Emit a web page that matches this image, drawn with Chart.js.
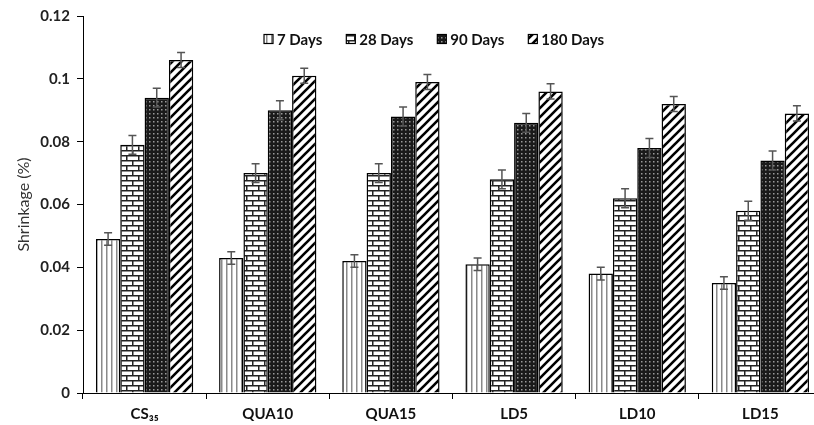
<!DOCTYPE html>
<html>
<head>
<meta charset="utf-8">
<script src="https://cdn.jsdelivr.net/npm/chart.js@4"></script>
<style>
  html, body { margin: 0; padding: 0; background: #fff; overflow: hidden; }
  #wrap { width: 832px; height: 425px; }
</style>
</head>
<body>
<div id="wrap"><canvas id="shrinkChart"></canvas></div>
<script>
const categories = ["CS\u2083\u2085", "QUA10", "QUA15", "LD5", "LD10", "LD15"];
const seriesNames = ["7 Days", "28 Days", "90 Days", "180 Days"];
const days7 = [0.049, 0.043, 0.042, 0.041, 0.038, 0.035];
const days28 = [0.079, 0.070, 0.070, 0.068, 0.062, 0.058];
const days90 = [0.094, 0.090, 0.088, 0.086, 0.078, 0.074];
const days180 = [0.106, 0.101, 0.099, 0.096, 0.092, 0.089];
const err7 = [0.002, 0.002, 0.002, 0.002, 0.002, 0.002];
const err28 = [0.003, 0.003, 0.003, 0.003, 0.003, 0.003];
const err90 = [0.003, 0.003, 0.003, 0.003, 0.003, 0.003];
const err180 = [0.0024, 0.0024, 0.0024, 0.0024, 0.0024, 0.0024];
const yTicks = [0, 0.02, 0.04, 0.06, 0.08, 0.1, 0.12];

function makePattern(w, h, draw) {
    const c = document.createElement("canvas");
    c.width = w;
    c.height = h;
    const g = c.getContext("2d");
    g.fillStyle = "#fff";
    g.fillRect(0, 0, w, h);
    draw(g);
    return c.getContext("2d").createPattern(c, "repeat");
}

// vertical gray stripes
const pat7 = makePattern(5, 5, g => {
    g.fillStyle = "#8a8a8a";
    g.fillRect(1, 0, 1.5, 5);
});

// bricks
const pat28 = makePattern(12, 10, g => {
    g.fillStyle = "#222";
    g.fillRect(0, 0, 12, 1.5);
    g.fillRect(0, 5, 12, 1.5);
    g.fillRect(0, 0, 1.5, 5);
    g.fillRect(6, 5, 1.5, 5);
});

// dense dark grid
const pat90 = makePattern(4, 4, g => {
    g.fillStyle = "#1a1a1a";
    g.fillRect(0, 0, 4, 4);
    g.fillStyle = "#9a9a9a";
    g.fillRect(1, 1, 1.5, 1.5);
});

// wide diagonal stripes
const pat180 = makePattern(9, 9, g => {
    g.strokeStyle = "#000";
    g.lineWidth = 2.6;
    g.beginPath();
    g.moveTo(-2, 11); g.lineTo(11, -2);
    g.moveTo(-2, 2); g.lineTo(2, -2);
    g.moveTo(7, 11); g.lineTo(11, 7);
    g.stroke();
});

const allValues = [days7, days28, days90, days180];
const allErrors = [err7, err28, err90, err180];
const fills = [pat7, pat28, pat90, pat180];

const errorBars = {
    id: "errorBars",
    afterDatasetsDraw(chart) {
        const ctx = chart.ctx;
        const y = chart.scales.y;
        ctx.save();
        ctx.strokeStyle = "#555";
        ctx.lineWidth = 1.5;
        chart.data.datasets.forEach((ds, i) => {
            const meta = chart.getDatasetMeta(i);
            meta.data.forEach((bar, j) => {
                const v = ds.data[j];
                const e = ds.errors[j];
                const top = y.getPixelForValue(v + e);
                const bot = y.getPixelForValue(v - e);
                ctx.beginPath();
                ctx.moveTo(bar.x, top); ctx.lineTo(bar.x, bot);
                ctx.moveTo(bar.x - 4, top); ctx.lineTo(bar.x + 4, top);
                ctx.moveTo(bar.x - 4, bot); ctx.lineTo(bar.x + 4, bot);
                ctx.stroke();
            });
        });
        ctx.restore();
    }
};

// legend drawn inside the plot, in one row near the top
const insideLegend = {
    id: "insideLegend",
    afterDraw(chart) {
        const ctx = chart.ctx;
        const area = chart.chartArea;
        const box = 9, gapText = 4, gapItem = 24;
        ctx.save();
        ctx.font = "bold 15px Lato";
        ctx.textBaseline = "middle";
        const items = chart.data.datasets.map(ds => ({
            text: ds.label, fill: ds.backgroundColor, w: box + gapText + ctx.measureText(ds.label).width
        }));
        const total = items.reduce((s, it) => s + it.w, 0) + gapItem * (items.length - 1);
        let x = area.left + (area.right - area.left) * 0.475 - total / 2;
        const cy = area.top + 23;
        items.forEach(it => {
            ctx.fillStyle = it.fill;
            ctx.fillRect(x, cy - box / 2, box, box);
            ctx.strokeStyle = "#000";
            ctx.lineWidth = 1.2;
            ctx.strokeRect(x, cy - box / 2, box, box);
            ctx.fillStyle = "#111";
            ctx.fillText(it.text, x + box + gapText, cy + 1);
            x += it.w + gapItem;
        });
        ctx.restore();
    }
};

new Chart(document.getElementById("shrinkChart"), {
    type: "bar",
    data: {
        labels: categories,
        datasets: seriesNames.map((name, i) => ({
            label: name,
            data: allValues[i],
            errors: allErrors[i],
            backgroundColor: fills[i],
            borderColor: "#000",
            borderWidth: 1.5,
            barPercentage: 1,
            categoryPercentage: 0.79
        }))
    },
    options: {
        responsive: true,
        maintainAspectRatio: false,
        animation: false,
        layout: { padding: { top: 6, left: 0, right: 10, bottom: 0 } },
        plugins: {
            tooltip: { enabled: false },
            legend: { display: false }
        },
        scales: {
            x: {
                afterFit(scale) { scale.height = 32; },
                grid: { display: true, drawOnChartArea: false, offset: true, color: "#000", tickLength: 6, tickColor: "#000" },
                border: { color: "#000", width: 1 },
                ticks: { color: "#111", font: { family: "Lato", size: 15, weight: "bold" }, padding: 6 }
            },
            y: {
                min: 0,
                max: 0.12,
                afterFit(scale) { scale.width = 83; },
                afterBuildTicks(scale) { scale.ticks = yTicks.map(v => ({ value: v })); },
                grid: { display: true, drawOnChartArea: false, color: "#000", tickLength: 6 },
                border: { color: "#000", width: 1 },
                ticks: {
                    color: "#222",
                    font: { family: "Lato", size: 15, weight: "bold" },
                    padding: 7,
                    callback: v => String(+v.toFixed(2))
                },
                title: {
                    display: true,
                    text: "Shrinkage (%)",
                    color: "#333",
                    font: { family: "Lato", size: 16 },
                    padding: { top: 14, bottom: 0 }
                }
            }
        }
    },
    plugins: [errorBars, insideLegend]
});
</script>
</body>
</html>
